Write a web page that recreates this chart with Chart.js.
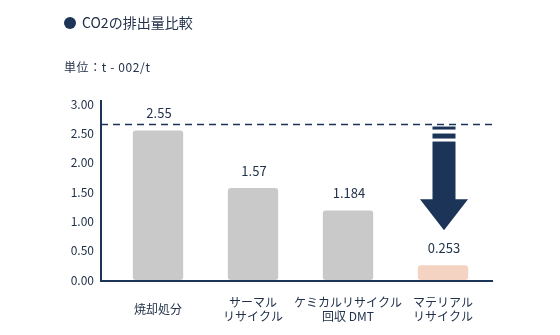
<!DOCTYPE html>
<html>
<head>
<meta charset="utf-8">
<script src="https://cdn.jsdelivr.net/npm/chart.js@4"></script>
<style>
  html, body { margin: 0; padding: 0; background: #fff; }
  #wrap { position: relative; width: 560px; height: 335px; font-family: "Noto Sans CJK JP", "Noto Sans", sans-serif; color: #22324a; }
  #title { position: absolute; left: 64px; top: 12px; font-size: 14px; line-height: 20px; white-space: nowrap; }
  #title .dot { display: inline-block; width: 12px; height: 12px; border-radius: 50%; background: #1b3458; margin-right: 6px; vertical-align: -1px; }
  #unit { position: absolute; left: 64px; top: 59px; font-size: 12px; letter-spacing: 0.6px; line-height: 16px; white-space: nowrap; }
  #myChart { position: absolute; left: 0; top: 0; }
</style>
</head>
<body>
<div id="wrap">
  <canvas id="myChart" width="560" height="335"></canvas>
  <div id="title"><span class="dot"></span>CO2の排出量比較</div>
  <div id="unit">単位：t - 002/t</div>
</div>
<script>
var categories = [['焼却処分'], ['サーマル', 'リサイクル'], ['ケミカルリサイクル', '回収 DMT'], ['マテリアル', 'リサイクル']];
var emissions = [2.55, 1.57, 1.184, 0.253];
var valueLabels = ['2.55', '1.57', '1.184', '0.253'];
var yTicks = [0, 0.5, 1, 1.5, 2, 2.5, 3];
var referenceLine = 2.65;

var navy = '#1b3458';
var textColor = '#22324a';

// axis lines, dashed line, arrow and value labels
var extras = {
    id: 'extras',
    afterDatasetsDraw: function (chart) {
        var ctx = chart.ctx;
        var area = chart.chartArea;
        var y = chart.scales.y;
        var bars = chart.getDatasetMeta(0).data;
        ctx.save();

        // axes sit a little outside the bar area
        var axisX = area.left - 9.5;
        ctx.strokeStyle = navy;
        ctx.lineWidth = 2;
        ctx.beginPath();
        ctx.moveTo(axisX, area.top - 4);
        ctx.lineTo(axisX, area.bottom + 1);
        ctx.lineTo(area.right + 2.5, area.bottom + 1);
        ctx.stroke();

        var refY = y.getPixelForValue(referenceLine);
        ctx.lineWidth = 1.5;
        ctx.setLineDash([7, 5]);
        ctx.beginPath();
        ctx.moveTo(axisX, refY);
        ctx.lineTo(area.right + 6, refY);
        ctx.stroke();
        ctx.setLineDash([]);

        ctx.font = '13px "Noto Sans CJK JP", "Noto Sans", sans-serif';
        ctx.fillStyle = textColor;
        ctx.textAlign = 'center';
        ctx.textBaseline = 'middle';
        bars.forEach(function (bar, i) {
            ctx.fillText(valueLabels[i], bar.x + 1, bar.y - 17);
        });

        var last = bars[bars.length - 1];
        var cx = last.x + 1;
        var top = refY + 2;
        var tip = last.y - 35;
        var headTop = tip - 31;
        ctx.fillStyle = navy;
        ctx.fillRect(cx - 11.5, top, 23, 3);
        ctx.fillRect(cx - 11.5, top + 7, 23, 5);
        ctx.fillRect(cx - 11.5, top + 15, 23, headTop - top - 14);
        ctx.beginPath();
        ctx.moveTo(cx - 24, headTop);
        ctx.lineTo(cx + 24, headTop);
        ctx.lineTo(cx, tip);
        ctx.closePath();
        ctx.fill();
        ctx.restore();
    }
};

var ctx = document.getElementById('myChart').getContext('2d');
var myChart = new Chart(ctx, {
    type: 'bar',
    data: {
        labels: categories,
        datasets: [{
            data: emissions,
            backgroundColor: ['#c9c9c9', '#c9c9c9', '#c9c9c9', '#f5d3c2'],
            borderRadius: 3,
            borderSkipped: false,
            barPercentage: 0.53,
            categoryPercentage: 1
        }]
    },
    options: {
        responsive: false,
        animation: false,
        layout: {
            padding: { top: 104, right: 69.5, bottom: 0, left: 0 }
        },
        plugins: {
            legend: { display: false },
            tooltip: { enabled: false }
        },
        scales: {
            y: {
                min: 0,
                max: 3,
                afterFit: function (scale) { scale.width = 110.5; },
                afterBuildTicks: function (scale) {
                    scale.ticks = yTicks.map(function (v) { return { value: v }; });
                },
                grid: { display: false, drawTicks: false },
                border: { display: false },
                ticks: {
                    padding: 16.5,
                    color: textColor,
                    font: { family: '"Noto Sans CJK JP", "Noto Sans", sans-serif', size: 12 },
                    callback: function (v) { return Number(v).toFixed(2); }
                }
            },
            x: {
                afterFit: function (scale) { scale.height = 55; },
                grid: { display: false, drawTicks: false },
                border: { display: false },
                ticks: {
                    padding: 22,
                    crossAlign: 'center',
                    maxRotation: 0,
                    autoSkip: false,
                    color: textColor,
                    font: { family: '"Noto Sans CJK JP", sans-serif', size: 12, lineHeight: 1.2 }
                }
            }
        }
    },
    plugins: [extras]
});
</script>
</body>
</html>
